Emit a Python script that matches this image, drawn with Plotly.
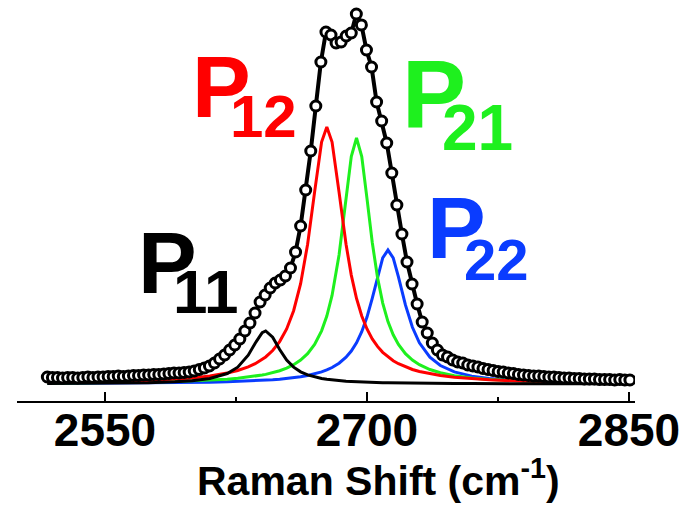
import plotly.graph_objects as go

# ---------------- data ----------------
raman_shift = [
    2517.0, 2519.9, 2522.8, 2525.7, 2528.6, 2531.5, 2534.4, 2537.3, 2540.2, 2543.1,
    2546.0, 2548.9, 2551.8, 2554.7, 2557.6, 2560.5, 2563.4, 2566.3, 2569.2, 2572.1,
    2575.0, 2577.9, 2580.8, 2583.7, 2586.6, 2589.5, 2592.4, 2595.3, 2598.2, 2601.1,
    2604.0, 2606.9, 2609.8, 2612.7, 2615.6, 2618.5, 2621.4, 2624.3, 2627.2, 2630.1,
    2633.0, 2635.9, 2638.8, 2641.7, 2644.6, 2647.5, 2650.4, 2653.3, 2656.2, 2659.1,
    2662.0, 2664.9, 2667.8, 2670.7, 2673.6, 2676.5, 2679.4, 2682.3, 2685.2, 2688.1,
    2691.0, 2693.9, 2696.8, 2699.7, 2702.6, 2705.5, 2708.4, 2711.3, 2714.2, 2717.1,
    2720.0, 2722.9, 2725.8, 2728.7, 2731.6, 2734.5, 2737.4, 2740.3, 2743.2, 2746.1,
    2749.0, 2751.9, 2754.8, 2757.7, 2760.6, 2763.5, 2766.4, 2769.3, 2772.2, 2775.1,
    2778.0, 2780.9, 2783.8, 2786.7, 2789.6, 2792.5, 2795.4, 2798.3, 2801.2, 2804.1,
    2807.0, 2809.9, 2812.8, 2815.7, 2818.6, 2821.5, 2824.4, 2827.3, 2830.2, 2833.1,
    2836.0, 2838.9, 2841.8, 2844.7, 2847.6, 2850.5,
]
intensity = [
    0.0189, 0.0175, 0.0175, 0.0162, 0.0175, 0.0175, 0.0162, 0.0175, 0.0189, 0.0175,
    0.0189, 0.0189, 0.0202, 0.0202, 0.0216, 0.0202, 0.0216, 0.0229, 0.0229, 0.0243,
    0.0243, 0.0256, 0.0256, 0.0270, 0.0283, 0.0296, 0.0296, 0.0310, 0.0323, 0.0350,
    0.0391, 0.0431, 0.0485, 0.0566, 0.0674, 0.0782, 0.0916, 0.1051, 0.1213, 0.1429,
    0.1644, 0.1914, 0.2210, 0.2399, 0.2588, 0.2722, 0.2803, 0.2911, 0.3127, 0.3558,
    0.4259, 0.5229, 0.6280, 0.7493, 0.8679, 0.9488, 0.9407, 0.9191, 0.9218, 0.9380,
    0.9461, 0.9973, 0.9677, 0.9003, 0.8544, 0.7601, 0.7089, 0.6496, 0.5687, 0.4825,
    0.4043, 0.3288, 0.2695, 0.2156, 0.1671, 0.1375, 0.1105, 0.0916, 0.0782, 0.0728,
    0.0647, 0.0593, 0.0566, 0.0512, 0.0485, 0.0458, 0.0418, 0.0391, 0.0364, 0.0337,
    0.0323, 0.0296, 0.0283, 0.0256, 0.0243, 0.0229, 0.0216, 0.0216, 0.0202, 0.0189,
    0.0189, 0.0175, 0.0162, 0.0162, 0.0148, 0.0148, 0.0135, 0.0135, 0.0135, 0.0121,
    0.0121, 0.0121, 0.0108, 0.0121, 0.0108, 0.0108,
]

fit_shift = [
    2517, 2530, 2545, 2560, 2575, 2590, 2600, 2610, 2620, 2626,
    2632, 2636, 2640, 2642, 2646, 2650, 2654, 2658, 2662, 2666,
    2670, 2674, 2677, 2680, 2684, 2688, 2691, 2694, 2697, 2700,
    2703, 2706, 2709, 2712, 2715, 2718, 2722, 2726, 2730, 2736,
    2742, 2750, 2760, 2770, 2785, 2800, 2820, 2850,
]
p11 = [
    0.0011, 0.0013, 0.0018, 0.0025, 0.0037, 0.0060, 0.0090, 0.0149, 0.0282, 0.0454,
    0.0777, 0.1098, 0.1384, 0.1430, 0.1261, 0.0930, 0.0647, 0.0454, 0.0328, 0.0245,
    0.0188, 0.0149, 0.0127, 0.0109, 0.0090, 0.0076, 0.0068, 0.0060, 0.0054, 0.0049,
    0.0044, 0.0040, 0.0037, 0.0034, 0.0031, 0.0029, 0.0026, 0.0024, 0.0022, 0.0019,
    0.0017, 0.0014, 0.0012, 0.0010, 0.0008, 0.0007, 0.0005, 0.0004,
]
p12 = [
    0.0039, 0.0046, 0.0057, 0.0072, 0.0095, 0.0129, 0.0164, 0.0215, 0.0294, 0.0364,
    0.0460, 0.0547, 0.0659, 0.0729, 0.0903, 0.1143, 0.1483, 0.1976, 0.2704, 0.3766,
    0.5171, 0.6522, 0.6930, 0.6522, 0.5171, 0.3766, 0.2935, 0.2305, 0.1834, 0.1483,
    0.1217, 0.1013, 0.0854, 0.0729, 0.0628, 0.0547, 0.0460, 0.0392, 0.0338, 0.0275,
    0.0228, 0.0182, 0.0142, 0.0113, 0.0085, 0.0065, 0.0048, 0.0033,
]
p21 = [
    0.0023, 0.0027, 0.0033, 0.0040, 0.0051, 0.0067, 0.0082, 0.0102, 0.0131, 0.0154,
    0.0185, 0.0210, 0.0242, 0.0260, 0.0303, 0.0357, 0.0427, 0.0520, 0.0644, 0.0818,
    0.1066, 0.1433, 0.1831, 0.2387, 0.3477, 0.4998, 0.6130, 0.6630, 0.6130, 0.4998,
    0.3821, 0.2875, 0.2180, 0.1683, 0.1326, 0.1066, 0.0818, 0.0644, 0.0520, 0.0390,
    0.0303, 0.0225, 0.0164, 0.0124, 0.0087, 0.0064, 0.0046, 0.0030,
]
p22 = [
    0.0014, 0.0016, 0.0019, 0.0022, 0.0028, 0.0035, 0.0041, 0.0049, 0.0060, 0.0069,
    0.0080, 0.0088, 0.0098, 0.0103, 0.0116, 0.0130, 0.0148, 0.0170, 0.0197, 0.0230,
    0.0272, 0.0327, 0.0380, 0.0445, 0.0561, 0.0722, 0.0889, 0.1111, 0.1409, 0.1805,
    0.2310, 0.2888, 0.3398, 0.3610, 0.3398, 0.2888, 0.2131, 0.1529, 0.1111, 0.0722,
    0.0498, 0.0327, 0.0212, 0.0148, 0.0095, 0.0066, 0.0044, 0.0027,
]

tick_values = [2550, 2700, 2850]
tick_labels = ["2550", "2700", "2850"]
minor_ticks = [2625, 2775]
x_title = "Raman Shift (cm<sup>-1</sup>)"

# ---------------- figure ----------------
W, H = 686, 505
L, R, T, B = 17, 51, 0, 104
PW, PH = W - L - R, H - T - B
XR = [2499.63, 2853.43]
YR = [-0.0458, 1.035]
FONT = "Arial, Liberation Sans, sans-serif"

def px_to_x(px):
    return XR[0] + (px - L) * (XR[1] - XR[0]) / PW

def py_to_y(py):
    return YR[1] - (py - T) * (YR[1] - YR[0]) / PH

fig = go.Figure()
components = [(p22, "#0A3CFF"), (p21, "#1EF01E"), (p12, "#FF0000"), (p11, "#000000")]
for vals, col in components:
    fig.add_trace(go.Scatter(x=fit_shift, y=vals, mode="lines",
                             line=dict(color=col, width=3), hoverinfo="skip"))

fig.add_trace(go.Scatter(
    x=raman_shift, y=intensity, mode="lines+markers",
    line=dict(color="black", width=4),
    marker=dict(symbol="circle", size=10, color="white",
                line=dict(color="black", width=3)),
    hoverinfo="skip"))

labels = [
    ("P", 167.5, 262.5, 88, "#000000"), ("11", 206, 291, 62, "#000000"),
    ("P", 221.5, 86, 88, "#FF0000"), ("12", 263, 116, 60, "#FF0000"),
    ("P", 434, 93.5, 96, "#1EF01E"), ("21", 477, 127.5, 64, "#1EF01E"),
    ("P", 456.5, 227.5, 88, "#0A3CFF"), ("22", 496, 259.5, 58, "#0A3CFF"),
]
for txt, px, py, size, col in labels:
    fig.add_annotation(x=px_to_x(px), y=py_to_y(py), xref="x", yref="y",
                       text=txt, showarrow=False, xanchor="center", yanchor="middle",
                       font=dict(family=FONT, size=size, color=col, weight="bold"))

fig.add_annotation(x=(378 - L) / PW, y=(PH - (478 - T)) / PH, xref="paper", yref="paper",
                   text=x_title, showarrow=False, xanchor="center", yanchor="middle",
                   font=dict(family=FONT, size=41, color="black", weight="bold"))

fig.update_layout(
    width=W, height=H, margin=dict(l=L, r=R, t=T, b=B, pad=0),
    paper_bgcolor="white", plot_bgcolor="white", showlegend=False,
    xaxis=dict(range=XR, showgrid=False, zeroline=False, showline=True,
               linecolor="black", linewidth=2, ticks="inside", ticklen=9,
               tickwidth=2, tickcolor="black", tickvals=tick_values,
               ticktext=tick_labels, ticklabelstandoff=-12,
               tickfont=dict(family=FONT, size=46, color="black", weight="bold"),
               minor=dict(tickvals=minor_ticks, ticks="inside", ticklen=4,
                          tickwidth=2, tickcolor="black")),
    yaxis=dict(range=YR, visible=False),
)

fig.write_html("out.html")
